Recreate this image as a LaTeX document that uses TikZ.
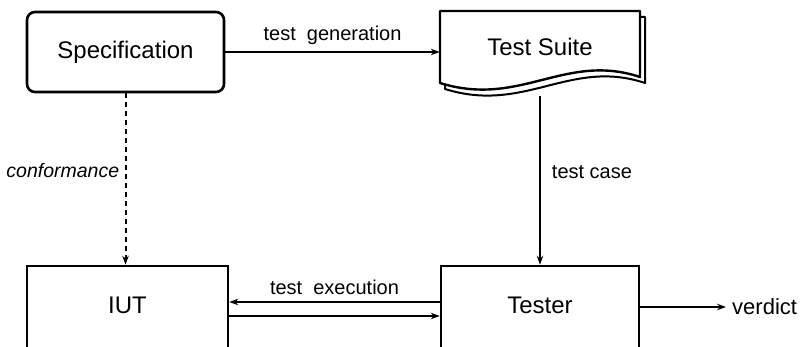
\documentclass[tikz,border=0pt]{standalone}
\usepackage{fontspec}
\setmainfont{Liberation Sans}
\usetikzlibrary{arrows.meta}
\begin{document}
\begin{tikzpicture}[x=1pt,y=-1pt,
  boxfont/.style={font=\fontsize{24}{28}\selectfont},
  lblfont/.style={font=\fontsize{20}{24}\selectfont},
  blk/.style={draw=black, line width=2.6pt, fill=white, inner sep=0pt, boxfont},
  conn/.style={line width=1.2pt, -{Stealth[length=9pt,width=6.5pt]}},
  page/.style={draw=black, fill=white, line width=2.4pt, line join=round}
]
\useasboundingbox (0,0) rectangle (800,347);
\clip (0,0) rectangle (800,347);
\fill[white] (0,0) rectangle (800,347);

% Specification
\node[blk, rounded corners=8pt, minimum width=197pt, minimum height=80pt] (spec) at (125.5,52) {Specification};

% Test Suite (document shape): back page then front page
\draw[page, line width=2pt] (445,17) -- (645,17) -- (645,83)
  .. controls (570,58) and (525,114) .. (445,89) -- cycle;
\draw[page] (440,11) -- (640,11) -- (640,77)
  .. controls (565,52) and (520,108) .. (440,83) -- cycle;
\node[boxfont, minimum width=200pt, minimum height=72pt, inner sep=0pt] (ts) at (540,47) {Test Suite};
\coordinate (tsbot) at (540,96);

% IUT and Tester (cut by the bottom edge)
\node[blk, minimum width=201pt, minimum height=96pt] (iut) at (127.5,314) {\raisebox{18pt}{IUT}};
\node[blk, minimum width=198pt, minimum height=96pt] (tester) at (540,314) {\raisebox{18pt}{Tester}};

% verdict
\node[font=\fontsize{22}{26}\selectfont, anchor=west, inner sep=0pt] (verdict) at (732,307) {verdict};

% connectors
\draw[conn] (spec.east) -- (ts.west |- spec.east)
  node[lblfont, midway, above=3pt] (lgen) {test\ \ generation};
\draw[conn] (tsbot) -- (tester.north)
  node[lblfont, pos=0.45, right=8pt] (lcase) {test case};
\draw[conn, line width=2pt, dash pattern=on 5pt off 4pt] (spec.south) -- (spec.south |- iut.north)
  node[font=\fontsize{19.5}{23}\selectfont\itshape, pos=0.45, left=2pt] (lconf) {conformance};
\draw[conn] ([yshift=12pt]tester.west) -- ([yshift=12pt]iut.east)
  node[lblfont, midway, above=3pt] (lexec) {test\ \ execution};
\draw[conn] ([yshift=-2pt]iut.east) -- ([yshift=-2pt]tester.west);
\draw[conn] ([yshift=7pt]tester.east) -- ([xshift=-6pt]verdict.west);
\end{tikzpicture}
\end{document}
